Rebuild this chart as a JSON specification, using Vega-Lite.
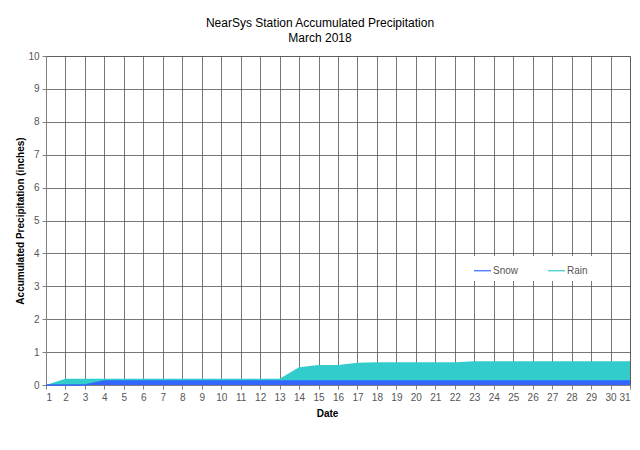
{
  "$schema": "https://vega.github.io/schema/vega-lite/v6.json",
  "width": 584,
  "height": 329,
  "autosize": {"type": "none"},
  "padding": {"left": 46, "top": 56, "right": 10, "bottom": 65},
  "background": "white",
  "title": {
    "text": ["NearSys Station Accumulated Precipitation", "March 2018"],
    "font": "Liberation Sans",
    "fontSize": 12,
    "fontWeight": "normal",
    "color": "black",
    "lineHeight": 15,
    "offset": 6,
    "dx": -18
  },
  "data": {
    "values": [
      {"date": 1, "series": "Rain", "value": 0},
      {"date": 2, "series": "Rain", "value": 0.19},
      {"date": 3, "series": "Rain", "value": 0.19},
      {"date": 4, "series": "Rain", "value": 0.19},
      {"date": 5, "series": "Rain", "value": 0.19},
      {"date": 6, "series": "Rain", "value": 0.19},
      {"date": 7, "series": "Rain", "value": 0.19},
      {"date": 8, "series": "Rain", "value": 0.19},
      {"date": 9, "series": "Rain", "value": 0.19},
      {"date": 10, "series": "Rain", "value": 0.19},
      {"date": 11, "series": "Rain", "value": 0.19},
      {"date": 12, "series": "Rain", "value": 0.19},
      {"date": 13, "series": "Rain", "value": 0.19},
      {"date": 14, "series": "Rain", "value": 0.54},
      {"date": 15, "series": "Rain", "value": 0.61},
      {"date": 16, "series": "Rain", "value": 0.61},
      {"date": 17, "series": "Rain", "value": 0.68},
      {"date": 18, "series": "Rain", "value": 0.69},
      {"date": 19, "series": "Rain", "value": 0.69},
      {"date": 20, "series": "Rain", "value": 0.69},
      {"date": 21, "series": "Rain", "value": 0.69},
      {"date": 22, "series": "Rain", "value": 0.69},
      {"date": 23, "series": "Rain", "value": 0.72},
      {"date": 24, "series": "Rain", "value": 0.72},
      {"date": 25, "series": "Rain", "value": 0.72},
      {"date": 26, "series": "Rain", "value": 0.72},
      {"date": 27, "series": "Rain", "value": 0.72},
      {"date": 28, "series": "Rain", "value": 0.72},
      {"date": 29, "series": "Rain", "value": 0.72},
      {"date": 30, "series": "Rain", "value": 0.72},
      {"date": 31, "series": "Rain", "value": 0.72},
      {"date": 1, "series": "Snow", "value": 0},
      {"date": 2, "series": "Snow", "value": 0},
      {"date": 3, "series": "Snow", "value": 0},
      {"date": 4, "series": "Snow", "value": 0.12},
      {"date": 5, "series": "Snow", "value": 0.12},
      {"date": 6, "series": "Snow", "value": 0.12},
      {"date": 7, "series": "Snow", "value": 0.12},
      {"date": 8, "series": "Snow", "value": 0.12},
      {"date": 9, "series": "Snow", "value": 0.12},
      {"date": 10, "series": "Snow", "value": 0.12},
      {"date": 11, "series": "Snow", "value": 0.12},
      {"date": 12, "series": "Snow", "value": 0.12},
      {"date": 13, "series": "Snow", "value": 0.12},
      {"date": 14, "series": "Snow", "value": 0.12},
      {"date": 15, "series": "Snow", "value": 0.12},
      {"date": 16, "series": "Snow", "value": 0.12},
      {"date": 17, "series": "Snow", "value": 0.12},
      {"date": 18, "series": "Snow", "value": 0.12},
      {"date": 19, "series": "Snow", "value": 0.12},
      {"date": 20, "series": "Snow", "value": 0.12},
      {"date": 21, "series": "Snow", "value": 0.12},
      {"date": 22, "series": "Snow", "value": 0.12},
      {"date": 23, "series": "Snow", "value": 0.12},
      {"date": 24, "series": "Snow", "value": 0.12},
      {"date": 25, "series": "Snow", "value": 0.12},
      {"date": 26, "series": "Snow", "value": 0.12},
      {"date": 27, "series": "Snow", "value": 0.12},
      {"date": 28, "series": "Snow", "value": 0.12},
      {"date": 29, "series": "Snow", "value": 0.12},
      {"date": 30, "series": "Snow", "value": 0.12},
      {"date": 31, "series": "Snow", "value": 0.12}
    ]
  },
  "encoding": {
    "x": {
      "field": "date",
      "type": "quantitative",
      "title": "Date",
      "scale": {"domain": [1, 31], "nice": false, "zero": false},
      "axis": {
        "values": [1, 2, 3, 4, 5, 6, 7, 8, 9, 10, 11, 12, 13, 14, 15, 16, 17, 18, 19, 20, 21, 22, 23, 24, 25, 26, 27, 28, 29, 30, 31],
        "labelOverlap": false,
        "titleX": 281,
        "titlePadding": 6
      }
    },
    "y": {
      "field": "value",
      "type": "quantitative",
      "title": "Accumulated Precipitation (inches)",
      "stack": null,
      "scale": {"domain": [0, 10], "nice": false},
      "axis": {"values": [0, 1, 2, 3, 4, 5, 6, 7, 8, 9, 10], "labelOverlap": false, "titlePadding": 2}
    },
    "color": {
      "field": "series",
      "type": "nominal",
      "title": null,
      "scale": {"domain": ["Snow", "Rain"], "range": ["#3366ff", "#33cccc"]},
      "legend": {
        "orient": "none",
        "legendX": 422,
        "legendY": 200,
        "direction": "horizontal",
        "symbolType": "stroke",
        "symbolSize": 289,
        "symbolStrokeWidth": 1.2,
        "columnPadding": 26,
        "labelOffset": 1,
        "fillColor": "white",
        "padding": 5,
        "labelFont": "Liberation Sans",
        "labelFontSize": 10,
        "labelColor": "#555555"
      }
    }
  },
  "layer": [
    {
      "transform": [{"filter": "datum.series == 'Rain'"}],
      "mark": {"type": "area", "opacity": 1}
    },
    {
      "transform": [{"filter": "datum.series == 'Snow'"}],
      "mark": {"type": "area", "opacity": 1, "line": {"color": "#2a4cf0", "strokeWidth": 1.5}}
    }
  ],
  "config": {
    "view": {"stroke": "#808080", "strokeWidth": 1},
    "axis": {
      "grid": true,
      "gridColor": "#555555",
      "gridOpacity": 0.8,
      "gridWidth": 1,
      "domainColor": "#808080",
      "tickColor": "#808080",
      "tickSize": 4,
      "labelFont": "Liberation Sans",
      "labelFontSize": 10,
      "labelColor": "#555555",
      "labelPadding": 3,
      "titleFont": "Liberation Sans",
      "titleFontSize": 10,
      "titleFontWeight": "bold",
      "titleColor": "black"
    }
  }
}
